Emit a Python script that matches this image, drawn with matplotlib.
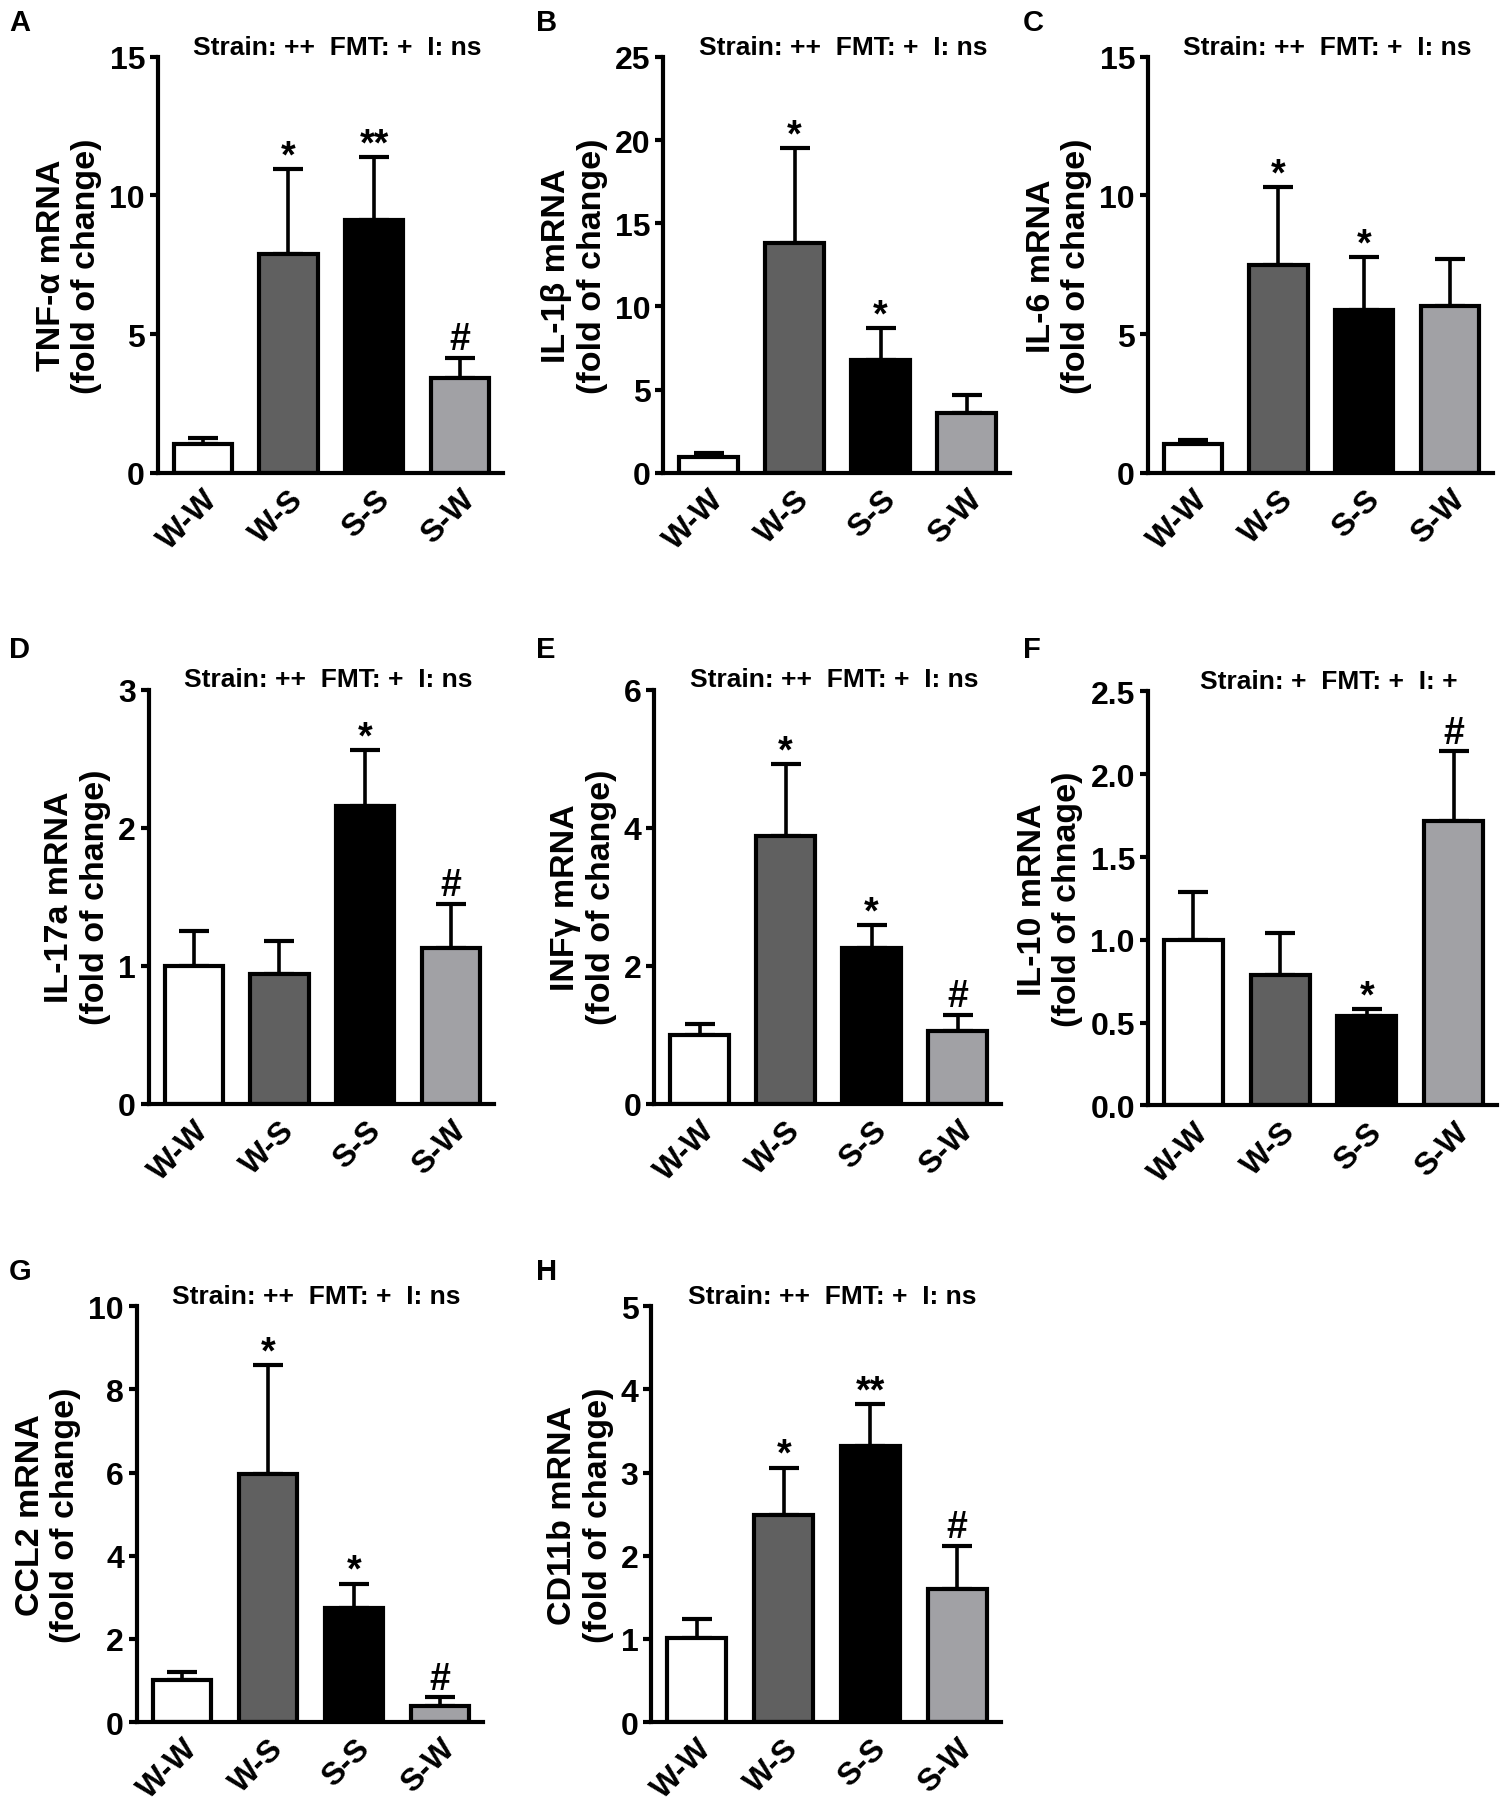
import numpy as np
from matplotlib import pyplot as plt

plt.rcParams['font.family'] = ['Liberation Sans', 'DejaVu Sans']
plt.rcParams['font.weight'] = 'bold'

# Groups and bar colours
groups = ["W-W", "W-S", "S-S", "S-W"]
bar_colors = ['#ffffff', '#606060', '#000000', '#a1a1a5']

# Mean and SEM (upper error) for each marker
tnf_mean = [1.04, 7.88, 9.13, 3.42]
tnf_sem = [0.20, 3.07, 2.24, 0.73]
il1b_mean = [0.95, 13.8, 6.8, 3.6]
il1b_sem = [0.25, 5.7, 1.9, 1.1]
il6_mean = [1.02, 7.5, 5.87, 6.02]
il6_sem = [0.16, 2.8, 1.9, 1.7]
il17_mean = [1.0, 0.94, 2.16, 1.13]
il17_sem = [0.25, 0.24, 0.40, 0.32]
infg_mean = [0.99, 3.88, 2.25, 1.06]
infg_sem = [0.17, 1.04, 0.34, 0.23]
il10_mean = [1.0, 0.79, 0.54, 1.72]
il10_sem = [0.29, 0.25, 0.04, 0.42]
ccl2_mean = [1.0, 5.97, 2.74, 0.38]
ccl2_sem = [0.21, 2.61, 0.59, 0.22]
cd11b_mean = [1.01, 2.49, 3.32, 1.6]
cd11b_sem = [0.23, 0.57, 0.50, 0.52]

# Significance marks above each bar
tnf_marks = ["", "*", "**", "#"]
il1b_marks = ["", "*", "*", ""]
il6_marks = ["", "*", "*", ""]
il17_marks = ["", "", "*", "#"]
infg_marks = ["", "*", "*", "#"]
il10_marks = ["", "", "*", "#"]
ccl2_marks = ["", "*", "*", "#"]
cd11b_marks = ["", "*", "**", "#"]

stats_main = "Strain: ++  FMT: +  I: ns"
stats_il10 = "Strain: +  FMT: +  I: +"

# letter, axes rect, ylabel, y ticks, data, marks, stats text
panels = [
    ('A', [0.105, 0.738, 0.230, 0.230], "TNF-α mRNA\n(fold of change)", [0, 5, 10, 15],
     tnf_mean, tnf_sem, tnf_marks, stats_main),
    ('B', [0.442, 0.738, 0.231, 0.230], "IL-1β mRNA\n(fold of change)", [0, 5, 10, 15, 20, 25],
     il1b_mean, il1b_sem, il1b_marks, stats_main),
    ('C', [0.765, 0.738, 0.230, 0.230], "IL-6 mRNA\n(fold of change)", [0, 5, 10, 15],
     il6_mean, il6_sem, il6_marks, stats_main),
    ('D', [0.099, 0.389, 0.230, 0.229], "IL-17a mRNA\n(fold of change)", [0, 1, 2, 3],
     il17_mean, il17_sem, il17_marks, stats_main),
    ('E', [0.436, 0.389, 0.231, 0.229], "INFγ mRNA\n(fold of change)", [0, 2, 4, 6],
     infg_mean, infg_sem, infg_marks, stats_main),
    ('F', [0.765, 0.388, 0.233, 0.229], "IL-10 mRNA\n(fold of chnage)", [0.0, 0.5, 1.0, 1.5, 2.0, 2.5],
     il10_mean, il10_sem, il10_marks, stats_il10),
    ('G', [0.091, 0.047, 0.231, 0.230], "CCL2 mRNA\n(fold of change)", [0, 2, 4, 6, 8, 10],
     ccl2_mean, ccl2_sem, ccl2_marks, stats_main),
    ('H', [0.434, 0.047, 0.233, 0.230], "CD11b mRNA\n(fold of change)", [0, 1, 2, 3, 4, 5],
     cd11b_mean, cd11b_sem, cd11b_marks, stats_main),
]

# Panel letter positions (figure coords)
letter_pos = {'A': (0.006, 0.995), 'B': (0.357, 0.995), 'C': (0.682, 0.995),
              'D': (0.006, 0.648), 'E': (0.357, 0.648), 'F': (0.682, 0.648),
              'G': (0.006, 0.304), 'H': (0.357, 0.304)}

fig = plt.figure(figsize=(15, 18.08), dpi=100)

for letter, rect, ylab, yt, mean, sem, marks, stats in panels:
    ax = fig.add_axes(rect)
    x = np.arange(len(groups))
    ax.bar(x, mean, width=0.68, color=bar_colors, edgecolor='black', linewidth=3, zorder=2)
    ax.errorbar(x, mean, yerr=[np.zeros(len(sem)), sem], fmt='none', ecolor='black',
                elinewidth=2.6, capsize=11, capthick=3, zorder=1)
    for xi, m, s, mk in zip(x, mean, sem, marks):
        if mk:
            off = 2 if '*' in mk else 6
            ax.annotate(mk, (xi, m + s), xytext=(0, off), textcoords='offset points',
                        ha='center', va='baseline', fontsize=27, fontweight='bold')

    ax.set_xlim(-0.53, 3.5)
    ax.set_ylim(yt[0], yt[-1])
    ax.set_yticks(yt)
    if letter == 'F':
        ax.set_yticklabels(['%.1f' % v for v in yt])
    ax.set_xticks(x)
    ax.set_xticklabels(groups, rotation=45, ha='right', va='top', rotation_mode='anchor')
    ax.tick_params(axis='x', length=0, pad=8, labelsize=23)
    ax.tick_params(axis='y', length=6, width=3, pad=3, labelsize=23)
    for sp in ['top', 'right']:
        ax.spines[sp].set_visible(False)
    for sp in ['left', 'bottom']:
        ax.spines[sp].set_linewidth(3)
    ax.set_ylabel(ylab, fontsize=24.5, fontweight='bold', labelpad=5)
    ax.text(0.52, 1.008, stats, transform=ax.transAxes, ha='center', va='baseline',
            fontsize=19, fontweight='bold')
    lx, ly = letter_pos[letter]
    fig.text(lx, ly, letter, ha='left', va='top', fontsize=21, fontweight='bold')

fig.savefig('out.png', dpi=100)
